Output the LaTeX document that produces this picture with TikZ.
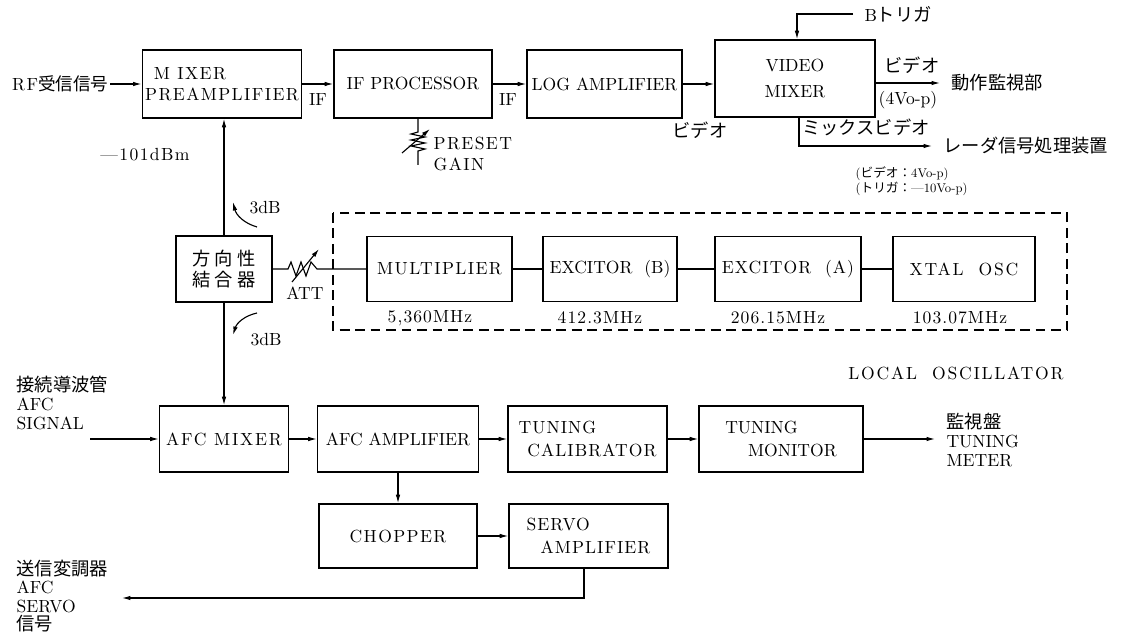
\documentclass[tikz,border=0pt]{standalone}
\usepackage{fontspec}
\setmainfont{lmroman10-regular}[Extension=.otf]
\newfontfamily\jp{Noto Sans CJK JP}
\usetikzlibrary{arrows.meta}

\begin{document}
\begin{tikzpicture}[
  font=\fontsize{12.5}{15}\selectfont,
  spaced/.style={font=\fontsize{12.5}{15}\selectfont\addfontfeature{LetterSpace=#1}},
  jptxt/.style={font=\fontsize{13}{15}\selectfont\jp},
  blk/.style={draw,line width=1.2pt,inner sep=2pt,minimum height=1.700cm},
  lbl/.style={inner sep=1pt},
  endlbl/.style={inner xsep=8pt,inner ysep=1pt},
  conn/.style={line width=0.8pt},
  arr/.style={line width=0.8pt,-{Latex[length=6pt,width=3.2pt]}}]
\useasboundingbox (0,0) rectangle (28.100,-15.825);
\node[blk,spaced=8,minimum width=3.950cm,align=left] (mixer) at (5.550,-2.100) {\hspace{0.5em}M IXER\\PREAMPLIFIER};
\node[blk,minimum width=3.950cm] (ifproc) at (10.325,-2.100) {IF PROCESSOR};
\node[blk,minimum width=3.875cm] (logamp) at (15.113,-2.100) {LOG AMPLIFIER};
\node[blk,minimum width=4.000cm,minimum height=1.925cm,align=center] (vmix) at (19.875,-1.963) {VIDEO\\[3pt]MIXER};
\node[blk,jptxt,minimum width=2.400cm,minimum height=1.650cm,align=center] (coupler) at (5.600,-6.725) {方\hspace{3pt}向\hspace{3pt}性\\結\hspace{3pt}合\hspace{3pt}器};
\node[blk,spaced=8,minimum width=3.625cm,minimum height=1.625cm] (mult) at (10.988,-6.725) {MULTIPLIER};
\node[blk,minimum width=3.350cm,minimum height=1.625cm] (excb) at (15.250,-6.725) {EXCITOR~~(B)};
\node[blk,spaced=6,minimum width=3.650cm,minimum height=1.625cm] (exca) at (19.700,-6.725) {EXCITOR~~(A)};
\node[blk,spaced=10,minimum width=3.550cm,minimum height=1.625cm] (xtal) at (24.100,-6.725) {XTAL~~OSC};
\node[blk,spaced=10,minimum width=3.225cm,minimum height=1.650cm] (afcmix) at (5.600,-10.975) {AFC MIXER};
\node[blk,minimum width=4.025cm,minimum height=1.650cm] (afcamp) at (9.950,-10.975) {AFC AMPLIFIER};
\node[blk,spaced=6,minimum width=3.975cm,minimum height=1.650cm,align=left] (tcal) at (14.688,-10.975) {TUNING\\[2pt]\hspace{0.5em}CALIBRATOR};
\node[blk,minimum width=4.100cm,minimum height=1.650cm,align=left] (tmon) at (19.525,-10.975) {TUNING\\[2pt]\hspace{1.3em}MONITOR};
\node[blk,spaced=8,minimum width=3.950cm,minimum height=1.600cm] (chop) at (9.950,-13.400) {CHOPPER};
\node[blk,spaced=6,minimum width=3.975cm,minimum height=1.600cm,align=left] (servo) at (14.713,-13.400) {SERVO\\[2pt]\hspace{0.8em}AMPLIFIER};
\draw[line width=0.8pt,dash pattern=on 7pt off 4pt] (8.325,-5.325) rectangle (26.675,-8.250);
\node[lbl,spaced=8,anchor=east] (rf) at (2.750,-2.100) {RF{\jp 受信信号}};
\draw[arr] (rf) -- (mixer);
\draw[arr] (mixer) -- (ifproc);
\draw[arr] (ifproc) -- (logamp);
\draw[arr] (logamp.east) -- (logamp.east -| vmix.west);
\node[lbl] (if1) at (7.950,-2.500) {IF};
\node[lbl] (if2) at (12.700,-2.500) {IF};
\node[lbl,jptxt] (vid1) at (17.500,-3.250) {ビデオ};
\node[endlbl,anchor=west] (btrig) at (21.325,-0.350) {B{\jp\fontsize{13}{15}\selectfont トリガ}};
\coordinate (bturn) at (19.925,-0.350);
\draw[arr] (btrig.west) -- (bturn) -- (bturn |- vmix.north);
\node[endlbl,jptxt,anchor=west] (opmon) at (23.500,-2.075) {動作監視部};
\draw[arr] (vmix.east |- opmon) -- (opmon.west);
\node[lbl,jptxt] (vid2) at (22.800,-1.625) {ビデオ};
\node[lbl] (vpp1) at (22.700,-2.500) {(4Vo-p)};
\coordinate (mixturn) at (19.975,-3.650);
\node[endlbl,jptxt,anchor=west] (radar) at (23.300,-3.650) {レーダ信号処理装置};
\draw[arr] (vmix.south -| mixturn) -- (mixturn) -- (radar.west);
\node[lbl,jptxt] (mixvid) at (21.650,-3.175) {ミックスビデオ};
\node[lbl,anchor=north west,align=left,font=\fontsize{9}{10.5}\selectfont] (vlev) at (21.350,-4.125) {({\jp ビデオ：}4Vo-p)\\({\jp トリガ：}---10Vo-p)};
\draw[conn] (10.450,-2.950) -- (10.450,-3.300) -- (10.275,-3.350) -- (10.625,-3.425) -- (10.275,-3.500) -- (10.625,-3.575) -- (10.275,-3.650) -- (10.625,-3.725) -- (10.450,-3.775) -- (10.450,-4.125);
\draw[arr] (10.050,-3.825) -- (10.750,-3.225);
\node[lbl,spaced=8,anchor=west,align=left] (preset) at (10.800,-3.850) {PRESET\\GAIN};
\node[lbl,spaced=8] (dbm) at (3.625,-3.875) {---101dBm};
\draw[arr] (coupler.north) -- (coupler.north |- mixer.south);
\draw[arr] (coupler) -- (afcmix);
\draw[arr] (6.425,-5.675) to[bend left=30] (5.825,-5.050);
\node[lbl] (db1) at (6.625,-5.200) {3dB};
\draw[arr] (6.425,-7.825) to[bend right=30] (5.825,-8.375);
\node[lbl] (db2) at (6.650,-8.500) {3dB};
\draw[conn] (coupler.east) -- (7.200,-6.725) -- (7.275,-6.550) -- (7.400,-6.900) -- (7.525,-6.550) -- (7.650,-6.900) -- (7.775,-6.550) -- (7.925,-6.725) -- (mult.west);
\draw[arr] (7.300,-7.050) -- (7.975,-6.225);
\node[lbl] (att) at (7.625,-7.325) {ATT};
\draw[conn] (mult) -- (excb);
\draw[conn] (excb) -- (exca);
\draw[conn] (exca) -- (xtal);
\node[lbl,spaced=6] (f1) at (10.750,-7.950) {5,360MHz};
\node[lbl,spaced=6] (f2) at (15.000,-7.950) {412.3MHz};
\node[lbl,spaced=6] (f3) at (19.450,-7.950) {206.15MHz};
\node[lbl,spaced=6] (f4) at (24.000,-7.950) {103.07MHz};
\node[lbl,spaced=10] (lo) at (23.900,-9.325) {LOCAL~~OSCILLATOR};
\node[lbl,anchor=west,align=left,font=\fontsize{12.5}{13.5}\selectfont] (afcin) at (0.375,-10.075) {{\jp\fontsize{13}{13.5}\selectfont 接続導波管}\\AFC\\SIGNAL};
\coordinate (afcsrc) at (2.250,-10.975);
\draw[arr] (afcsrc) -- (afcmix);
\draw[arr] (afcmix) -- (afcamp);
\draw[arr] (afcamp) -- (tcal);
\draw[arr] (tcal) -- (tmon);
\node[endlbl,anchor=west,align=left,font=\fontsize{12.5}{13.5}\selectfont] (meter) at (23.375,-11.000) {{\jp\fontsize{13}{13.5}\selectfont 監視盤}\\TUNING\\METER};
\draw[arr] (tmon.east) -- (tmon.east -| meter.west);
\draw[arr] (afcamp) -- (chop);
\draw[arr] (chop) -- (servo);
\node[lbl,anchor=west,align=left,font=\fontsize{12.5}{13}\selectfont] (txout) at (0.375,-14.900) {{\jp\fontsize{13}{13}\selectfont 送信変調器}\\AFC\\SERVO\\{\jp\fontsize{13}{13}\selectfont 信号}};
\coordinate (svturn) at (14.600,-14.950);
\coordinate (txend) at (3.050,-14.950);
\draw[arr] (servo.south -| svturn) -- (svturn) -- (txend);
\end{tikzpicture}
\end{document}
